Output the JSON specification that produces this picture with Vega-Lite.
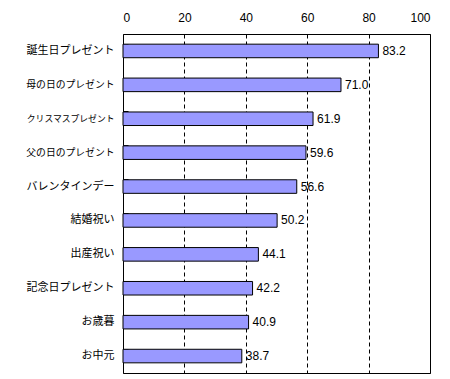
{
  "$schema": "https://vega.github.io/schema/vega-lite/v6.json",
  "width": 307,
  "height": 339,
  "autosize": {"type": "none"},
  "padding": {"left": 123, "top": 34, "right": 20, "bottom": 6},
  "background": "white",
  "config": {
    "view": {"stroke": "black", "strokeWidth": 1},
    "font": "Noto Sans CJK JP",
    "axis": {"labelColor": "black", "domain": false}
  },
  "data": {
    "values": [
      {"item": "誕生日プレゼント", "value": 83.2},
      {"item": "母の日のプレゼント", "value": 71.0},
      {"item": "クリスマスプレゼント", "value": 61.9},
      {"item": "父の日のプレゼント", "value": 59.6},
      {"item": "バレンタインデー", "value": 56.6},
      {"item": "結婚祝い", "value": 50.2},
      {"item": "出産祝い", "value": 44.1},
      {"item": "記念日プレゼント", "value": 42.2},
      {"item": "お歳暮", "value": 40.9},
      {"item": "お中元", "value": 38.7}
    ]
  },
  "encoding": {
    "y": {
      "field": "item", "type": "nominal", "sort": null, "title": null,
      "scale": {"paddingInner": 0.6, "paddingOuter": 0.3},
      "axis": {
        "bandPosition": 0, "offset": -5, "tickSize": 5, "tickColor": "black", "labelPadding": 9, "grid": false,
        "labelFont": "Noto Sans CJK JP",
        "labelFontSize": {"expr": "length(datum.label) >= 10 ? 8.8 : length(datum.label) >= 9 ? 9.8 : 11"}
      }
    },
    "x": {
      "field": "value", "type": "quantitative", "title": null,
      "scale": {"domain": [0, 100], "nice": false},
      "axis": {"orient": "top", "values": [0, 20, 40, 60, 80, 100], "ticks": false, "labelPadding": 10, "grid": true, "gridColor": "black", "gridDash": [4, 3], "gridOpacity": 1, "labelFont": "Liberation Sans", "labelFontSize": 12}
    }
  },
  "layer": [
    {"mark": {"type": "bar", "fill": "#9999FF", "stroke": "black", "strokeWidth": 1}},
    {"mark": {"type": "text", "align": "left", "dx": 4, "fontSize": 12, "color": "black", "font": "Liberation Sans"},
     "encoding": {"text": {"field": "value", "type": "quantitative", "format": ".1f"}}}
  ]
}
